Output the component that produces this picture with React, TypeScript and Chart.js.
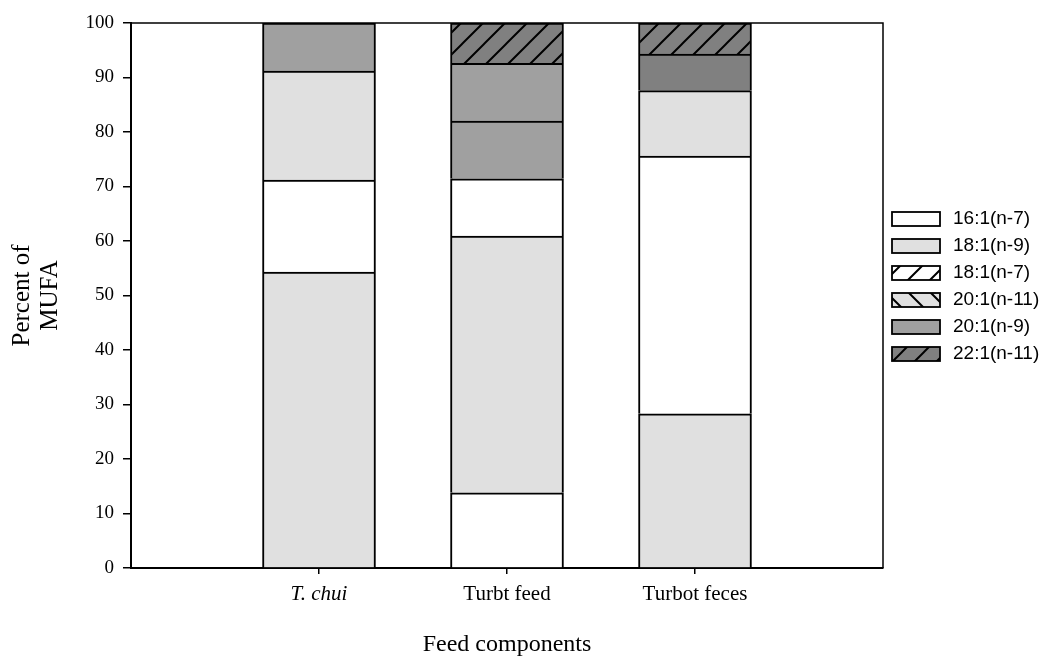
import React, { useEffect, useRef } from 'react';
import { Chart, registerables } from 'chart.js';

Chart.register(...registerables);

// ---- data ----
const categories = ['T. chui', 'Turbt feed', 'Turbot feces'];
// stacked segments, bottom to top (percent of MUFA)
const layer1 = [54.3, 13.8, 28.3];
const layer2 = [16.9, 47.1, 47.3];
const layer3 = [20.0, 10.5, 12.0];
const layer4 = [8.8, 10.6, 6.7];
const layer5 = [null, 10.6, 5.7];
const layer6 = [null, 7.4, null];
const legendLabels = ['16:1(n-7)', '18:1(n-9)', '18:1(n-7)', '20:1(n-11)', '20:1(n-9)', '22:1(n-11)'];
const yTitle = ['Percent of', 'MUFA'];
const xTitle = 'Feed components';

// ---- styles ----
const layerFills = [
  ['light', 'white', 'light'],
  ['white', 'light', 'white'],
  ['light', 'white', 'light'],
  ['medium', 'medium', 'dark'],
  [null, 'medium', 'darkHatch'],
  [null, 'darkHatch', null],
];
const legendFills = ['white', 'light', 'whiteHatch', 'lightBack', 'medium', 'darkHatch'];

function hatch(bg: string, back: boolean) {
  const s = 22;
  const c = document.createElement('canvas');
  c.width = s;
  c.height = s;
  const g = c.getContext('2d')!;
  g.fillStyle = bg;
  g.fillRect(0, 0, s, s);
  g.strokeStyle = '#000';
  g.lineWidth = 2;
  g.beginPath();
  if (!back) {
    g.moveTo(-3, 3); g.lineTo(3, -3);
    g.moveTo(0, s); g.lineTo(s, 0);
    g.moveTo(s - 3, s + 3); g.lineTo(s + 3, s - 3);
  } else {
    g.moveTo(0, 0); g.lineTo(s, s);
    g.moveTo(-3, s - 3); g.lineTo(3, s + 3);
    g.moveTo(s - 3, -3); g.lineTo(s + 3, 3);
  }
  g.stroke();
  return g.createPattern(c, 'repeat')!;
}

function makeFills(): Record<string, any> {
  return {
    white: '#ffffff',
    light: '#e0e0e0',
    medium: '#a0a0a0',
    dark: '#808080',
    darkHatch: hatch('#808080', false),
    whiteHatch: hatch('#ffffff', false),
    lightBack: hatch('#e0e0e0', true),
  };
}

export default function App() {
  const ref = useRef<HTMLCanvasElement>(null);
  useEffect(() => {
    const fills = makeFills();
    const layers = [layer1, layer2, layer3, layer4, layer5, layer6];
    const labels = ['', ...categories, ''];
    const datasets = layers.map((vals, li) => ({
      label: 'layer' + (li + 1),
      data: [null, ...vals, null],
      backgroundColor: ['#fff', ...layerFills[li].map((k) => (k ? fills[k] : '#fff')), '#fff'],
      borderColor: '#000',
      borderWidth: 2,
      borderSkipped: 'start' as const,
      barThickness: 113,
    }));

    const framePlugin = {
      id: 'frame',
      afterDraw(chart: any) {
        const { ctx, chartArea: a } = chart;
        ctx.save();
        ctx.strokeStyle = '#000';
        ctx.lineWidth = 1.5;
        ctx.beginPath();
        ctx.moveTo(a.left, a.top);
        ctx.lineTo(a.right, a.top);
        ctx.lineTo(a.right, a.bottom);
        ctx.stroke();
        // legend
        const x0 = 892;
        const y0 = 212;
        const step = 27;
        legendLabels.forEach((lab, i) => {
          const y = y0 + i * step;
          ctx.fillStyle = fills[legendFills[i]];
          ctx.fillRect(x0, y, 48, 14);
          ctx.lineWidth = 1.8;
          ctx.strokeStyle = '#000';
          ctx.strokeRect(x0, y, 48, 14);
          ctx.fillStyle = '#000';
          ctx.font = '19px "Liberation Sans", Arial, sans-serif';
          ctx.textBaseline = 'middle';
          ctx.textAlign = 'left';
          ctx.fillText(lab, 953, y + 7);
        });
        ctx.restore();
      },
    };

    const chart = new Chart(ref.current!, {
      type: 'bar',
      data: { labels, datasets: datasets as any },
      options: {
        animation: false,
        responsive: false,
        maintainAspectRatio: false,
        layout: { padding: { left: 0, right: 165, top: 23, bottom: 0 } },
        plugins: { legend: { display: false }, tooltip: { enabled: false } },
        scales: {
          x: {
            type: 'category',
            stacked: true,
            offset: false,
            grid: {
              display: true,
              drawOnChartArea: false,
              drawTicks: true,
              tickLength: 6,
              offset: false,
              color: '#000',
              lineWidth: 1.5,
            },
            border: { display: true, color: '#000', width: 2 },
            afterBuildTicks: (scale: any) => {
              scale.ticks = scale.ticks.filter((t: any) => t.value >= 1 && t.value <= categories.length);
            },
            afterFit: (scale: any) => {
              scale.height = 89;
            },
            ticks: {
              autoSkip: false,
              maxRotation: 0,
              color: '#000',
              padding: 8,
              font: (ctx: any) => ({
                family: '"Liberation Serif", "Times New Roman", serif',
                size: 21,
                style: ctx.tick && ctx.tick.value === 1 ? 'italic' : 'normal',
              }),
            },
            title: {
              display: true,
              text: xTitle,
              color: '#000',
              font: { family: '"Liberation Serif", "Times New Roman", serif', size: 24, lineHeight: 1 },
              padding: { top: 0, bottom: 0 },
            },
          },
          y: {
            stacked: true,
            min: 0,
            max: 100,
            grid: {
              display: true,
              drawOnChartArea: false,
              drawTicks: true,
              tickLength: 8,
              color: '#000',
              lineWidth: 1.5,
            },
            border: { display: true, color: '#000', width: 2 },
            afterFit: (scale: any) => {
              scale.width = 131;
            },
            ticks: {
              stepSize: 10,
              color: '#000',
              padding: 9,
              font: { family: '"Liberation Serif", "Times New Roman", serif', size: 19 },
            },
            title: {
              display: true,
              text: yTitle,
              color: '#000',
              font: { family: '"Liberation Serif", "Times New Roman", serif', size: 25, lineHeight: 1.1 },
              padding: { top: 9, bottom: 0 },
            },
          },
        },
      },
      plugins: [framePlugin],
    });
    return () => chart.destroy();
  }, []);

  return (
    <div style={{ position: 'fixed', left: 0, top: 0, width: 1048, height: 657, background: '#fff' }}>
      <canvas ref={ref} width={1048} height={657} />
    </div>
  );
}
